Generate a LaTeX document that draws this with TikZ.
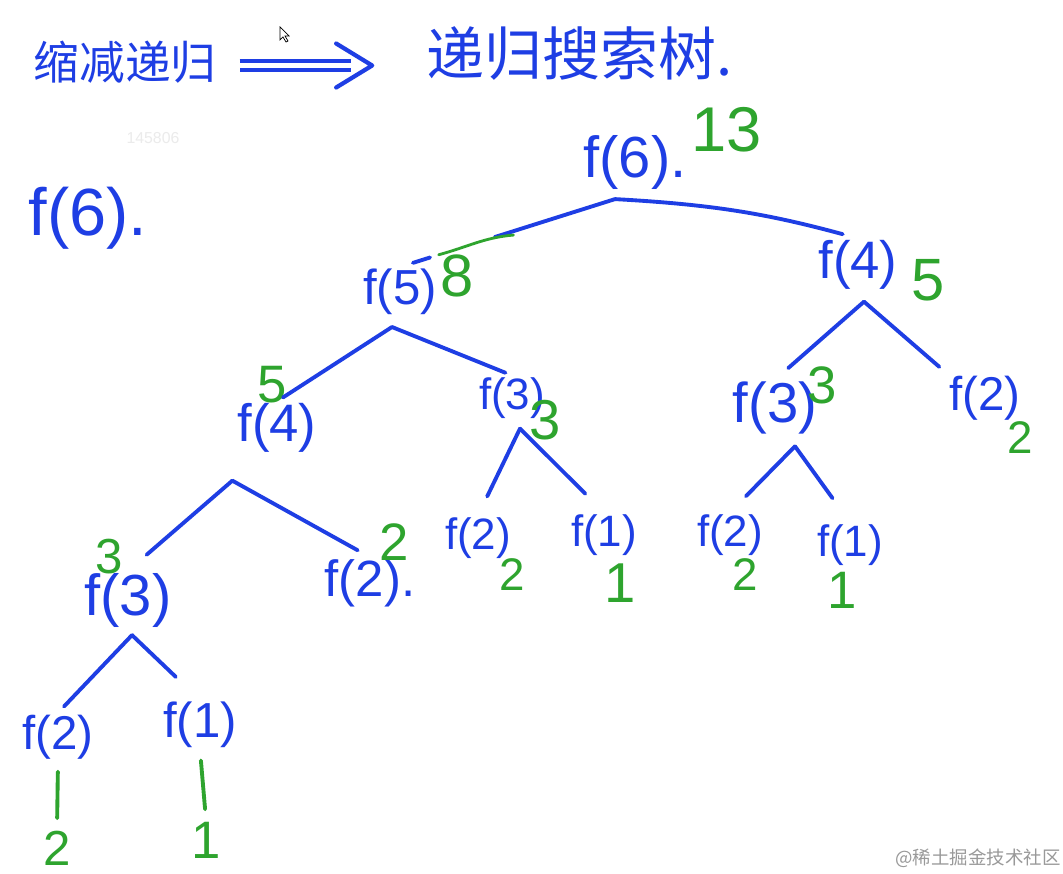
\documentclass[tikz,border=0pt]{standalone}
\usepackage{fontspec}
\setmainfont{Liberation Sans}
\newfontfamily\cjk{Noto Sans CJK SC}
\usetikzlibrary{arrows.meta,calc}

\definecolor{penblue}{RGB}{30,62,228}
\definecolor{pengreen}{RGB}{46,164,46}

\newcommand{\fsz}[1]{\fontsize{#1}{#1}\selectfont}

\begin{document}
\begin{tikzpicture}[x=0.02cm,y=-0.02cm,
  call/.style={text=penblue, inner sep=1pt},
  val/.style={text=pengreen, inner sep=1pt},
  edge/.style={draw=penblue, line width=2.2pt, line cap=round},
  gedge/.style={draw=pengreen, line width=2.2pt, line cap=round, shorten <=6pt, shorten >=6pt}]

  % Page and background
  \fill[white] (0,0) rectangle (1063,874);
  \useasboundingbox (0,0) rectangle (1063,874);

  % Title
  \node[call, font=\cjk\fsz{26}] (t1) at (125,62) {缩减递归};
  \node[call, font=\cjk\fsz{33}] (t2) at (580,54) {递归搜索树.};

  % Double arrow between the two titles
  \coordinate (tail) at ([xshift=12pt, yshift=-2pt]t1.east);
  \coordinate (tip) at ([xshift=-30pt]t2.west |- tail);
  \draw[penblue, line width=2.2pt, double distance=3.4pt, shorten >=12pt] (tail) -- (tip);
  \draw[penblue, line width=2.4pt, line cap=round, line join=round]
    ($(tip)+(-36,-22)$) -- (tip) -- ($(tip)+(-36,22)$);

  % Mouse pointer
  \draw[black, line width=0.4pt, fill=white] (280,27) -- (280,40) -- (283,37) -- (286,42)
    -- (288,41) -- (285,36) -- (289,36) -- cycle;

  % Watermarks
  \node[text=black!8, font=\fsz{9}] (wm1) at (153,138) {145806};
  \node[text=black!40, font=\cjk\fsz{10.5}] (wm2) at (978,858) {@稀土掘金技术社区};

  % Lone f(6) on the left
  \node[call, font=\fsz{38}] (lead) at (88,218) {f(6).};

  % Calls of the tree
  \node[call, font=\fsz{33}] (n6) at (635,163) {f(6).};
  \node[call, font=\fsz{28}] (n5) at (400,292) {f(5)};
  \node[call, font=\fsz{30}] (n4r) at (858,265) {f(4)};
  \node[call, font=\fsz{30}] (n4l) at (277,428) {f(4)};
  \node[call, font=\fsz{25}] (n3m) at (512,398) {f(3)};
  \node[call, font=\fsz{32}] (n3r) at (775,408) {f(3)};
  \node[call, font=\fsz{27}] (n2r) at (985,398) {f(2)};
  \node[call, font=\fsz{33}] (n3l) at (128,600) {f(3)};
  \node[call, font=\fsz{29}] (n2a) at (370,583) {f(2).};
  \node[call, font=\fsz{25}] (n2b) at (478,538) {f(2)};
  \node[call, font=\fsz{25}] (n1b) at (604,535) {f(1)};
  \node[call, font=\fsz{25}] (n2c) at (730,535) {f(2)};
  \node[call, font=\fsz{25}] (n1c) at (850,545) {f(1)};
  \node[call, font=\fsz{27}] (n2d) at (58,737) {f(2)};
  \node[call, font=\fsz{28}] (n1d) at (200,725) {f(1)};

  % Values written in green
  \node[val, font=\fsz{36}] (v6) at (727,130) {13};
  \node[val, font=\fsz{34}] (v5) at (457,276) {8};
  \node[val, font=\fsz{34}] (v4r) at (928,280) {5};
  \node[val, font=\fsz{30}] (v4l) at (272,385) {5};
  \node[val, font=\fsz{32}] (v3m) at (545,420) {3};
  \node[val, font=\fsz{30}] (v3r) at (822,385) {3};
  \node[val, font=\fsz{26}] (v2r) at (1020,438) {2};
  \node[val, font=\fsz{28}] (v3l) at (109,557) {3};
  \node[val, font=\fsz{30}] (v2a) at (394,542) {2};
  \node[val, font=\fsz{26}] (v2b) at (512,575) {2};
  \node[val, font=\fsz{32}] (v1b) at (620,583) {1};
  \node[val, font=\fsz{26}] (v2c) at (745,575) {2};
  \node[val, font=\fsz{30}] (v1c) at (842,590) {1};
  \node[val, font=\fsz{28}] (v2d) at (57,848) {2};
  \node[val, font=\fsz{30}] (v1d) at (206,840) {1};

  % Forks where the branches of a call meet
  \coordinate (k6) at ($(n6.south)+(-20,7)$);
  \coordinate (k5) at ($(n5.south)+(-8,10)$);
  \coordinate (k4r) at ($(n4r.south)+(6,10)$);
  \coordinate (k4l) at ($(n4l.south west)+(-3,26)$);
  \coordinate (k3m) at ($(n3m.south)+(8,8)$);
  \coordinate (k3r) at ($(n3r.south)+(20,10)$);
  \coordinate (k3l) at ($(n3l.south)+(4,6)$);

  % f(6) to f(5): broken stroke, part of it redrawn in green
  \coordinate (g1) at ($(k6)!0.50!(n5.north)$);
  \coordinate (g2) at ($(k6)!0.82!(n5.north)$);
  \draw[edge] (k6) -- ($(k6)!0.56!(n5.north)$);
  \draw[edge] ($(k6)!0.86!(n5.north)$) -- ($(k6)!0.94!(n5.north)$);
  \draw[pengreen, line width=1.6pt, line cap=round] ($(g1)+(6,2)$) to[out=185, in=15] (g2);

  % f(6) to f(4)
  \draw[edge, bend left=6, shorten >=9pt] (k6) to (n4r.north);

  % Branches of f(5)
  \draw[edge, shorten >=4pt] (k5) -- (n4l.north);
  \draw[edge, shorten >=4pt] (k5) -- (n3m.north);

  % Branches of f(4) on the right
  \draw[edge, shorten >=10pt] (k4r) -- (n3r.north);
  \draw[edge, shorten >=6pt] (k4r) -- (n2r.north west);

  % Branches of f(4) on the left
  \draw[edge, shorten >=14pt] (k4l) -- (n3l.north);
  \draw[edge, shorten >=8pt] (k4l) -- (n2a.north);

  % Branches of the f(3) nodes
  \draw[edge, shorten >=12pt] (k3m) -- (n2b.north);
  \draw[edge, shorten >=15pt] (k3m) -- (n1b.north);
  \draw[edge, shorten >=13pt] (k3r) -- (n2c.north);
  \draw[edge, shorten >=17pt] (k3r) -- (n1c.north);
  \draw[edge, shorten >=5pt] (k3l) -- (n2d.north);
  \draw[edge, shorten >=19pt] (k3l) -- (n1d.north);

  % Leaves down to their values
  \draw[gedge] (n2d.south) -- (v2d.north);
  \draw[gedge] (n1d.south) -- (v1d.north);

\end{tikzpicture}
\end{document}
